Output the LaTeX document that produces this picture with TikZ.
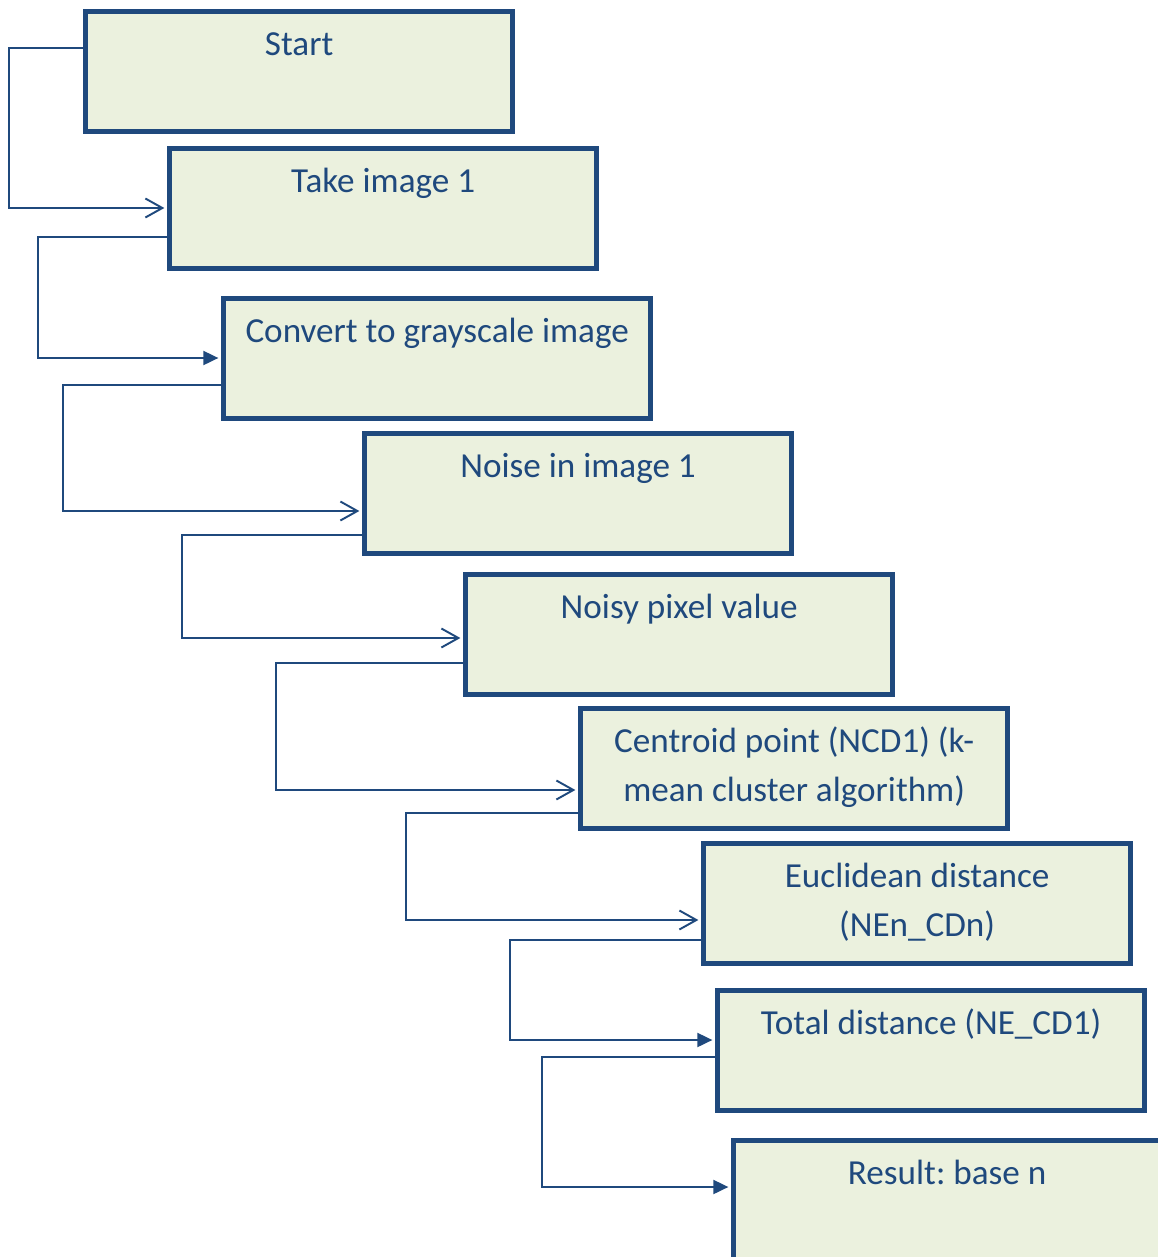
\documentclass[tikz,border=0pt]{standalone}
\usepackage{fontspec}
\setmainfont{Carlito}
\usepackage{xcolor}
\usepackage{tikz}
\usetikzlibrary{arrows.meta,positioning,calc}
\definecolor{boxblue}{HTML}{1F497D}
\definecolor{boxfill}{HTML}{EBF1DE}
\frenchspacing

\begin{document}
\begin{tikzpicture}[
    box/.style={rectangle, draw=boxblue, fill=boxfill, line width=3pt, anchor=north west, minimum width=8.54cm, minimum height=2.4cm, inner xsep=0.17cm, inner ysep=0.19cm, text=boxblue, font=\fontsize{20}{27.9}\selectfont, execute at begin node={\begin{minipage}[t][2.02cm][t]{8.2cm}\centering\strut}, execute at end node={\end{minipage}}},
    openarrow/.style={-{Straight Barb[length=0.34cm, width=0.38cm]}, draw=boxblue, line width=1.1pt, shorten >=1.5pt},
    solidarrow/.style={-{Triangle[length=0.3cm, width=0.28cm]}, draw=boxblue, line width=1.1pt, shorten >=1.5pt}
]

\useasboundingbox (0,0) rectangle (23.16,-25.14);

% Steps
\node[box] (start) at (1.66,-0.18) {Start};
\node[box] (take) at (3.34,-2.92) {Take image 1};
\node[box] (gray) at (4.42,-5.92) {Convert to grayscale image};
\node[box] (noise) at (7.24,-8.62) {Noise in image 1};
\node[box] (pixel) at (9.26,-11.44) {Noisy pixel value};
\node[box] (centroid) at (11.56,-14.12) {Centroid point (NCD1) (k-\\mean cluster algorithm)};
\node[box] (euclid) at (14.02,-16.82) {Euclidean distance\\(NEn\_CDn)};
\node[box] (total) at (14.3,-19.76) {Total distance (NE\_CD1)};
\node[box] (result) at (14.62,-22.76) {Result: base n};

% Connectors
\draw[openarrow] ([yshift=-0.78cm]start.north west) -- ++(-1.48,0) |- ([yshift=-1.24cm]take.north west);
\draw[solidarrow] ([yshift=-1.82cm]take.north west) -- ++(-2.58,0) |- ([yshift=-1.24cm]gray.north west);
\draw[openarrow] ([yshift=-1.78cm]gray.north west) -- ++(-3.16,0) |- ([yshift=-1.6cm]noise.north west);
\draw[openarrow] ([yshift=-2.08cm]noise.north west) -- ++(-3.6,0) |- ([yshift=-1.32cm]pixel.north west);
\draw[openarrow] ([yshift=-1.82cm]pixel.north west) -- ++(-3.74,0) |- ([yshift=-1.68cm]centroid.north west);
\draw[openarrow] ([yshift=-2.14cm]centroid.north west) -- ++(-3.44,0) |- ([yshift=-1.58cm]euclid.north west);
\draw[solidarrow] ([yshift=-1.98cm]euclid.north west) -- ++(-3.82,0) |- ([yshift=-1.04cm]total.north west);
\draw[solidarrow] ([yshift=-1.38cm]total.north west) -- ++(-3.46,0) |- ([yshift=-0.98cm]result.north west);

\end{tikzpicture}
\end{document}
